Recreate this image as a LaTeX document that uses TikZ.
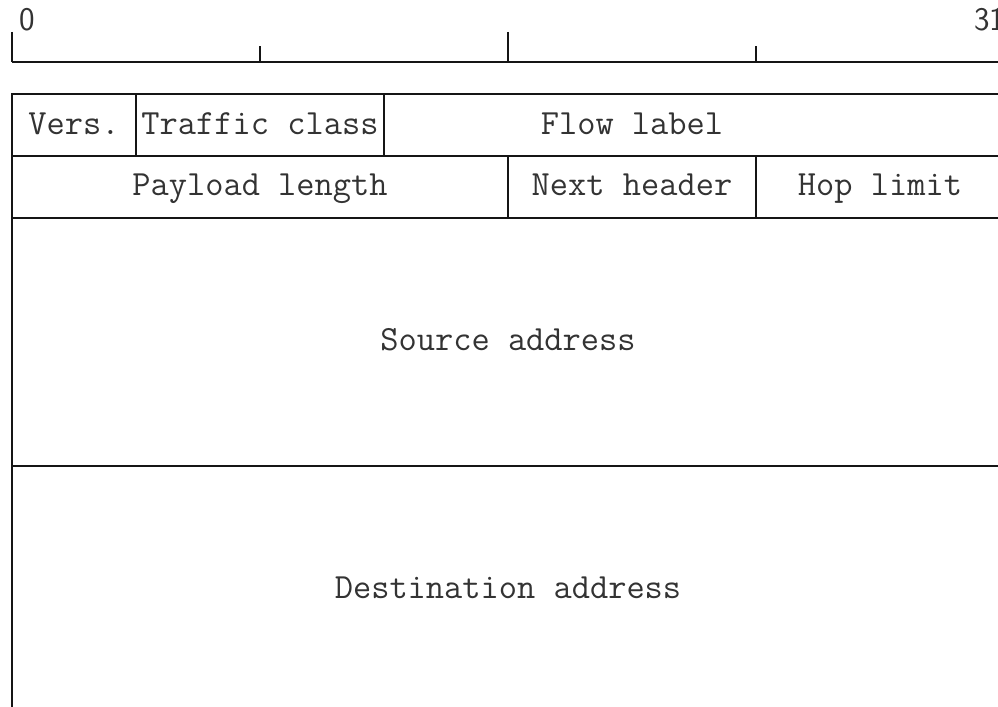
\documentclass[tikz,border=0pt]{standalone}
\definecolor{HeaderLine}{HTML}{151515}
\definecolor{HeaderText}{HTML}{333333}
\tikzset{
  field/.style={draw=HeaderLine,line width=1.1pt},
  fieldname/.style={text=HeaderText,font=\ttfamily\fontsize{17.7}{20}\selectfont,inner sep=0pt,anchor=base},
  bitno/.style={fieldname,font=\sffamily\fontsize{16.5}{20}\selectfont}
}

\begin{document}
\begin{tikzpicture}[x=15.5pt,y=-31pt,line cap=butt]
  % one unit across = one bit, one unit down = one 32-bit row
  \useasboundingbox (-.387,-1.516) rectangle (31.806,9.871);
  \clip (-.387,-1.516) rectangle (31.806,9.871);
  % bit ruler
  \draw[field] (0,-.516)--(32,-.516);
  \foreach \b in {0,16,32} \draw[field] (\b,-1.0)--(\b,-.516);
  \foreach \b in {8,24} \draw[field] (\b,-.774)--(\b,-.516);
  \node[bitno,anchor=base west] (bit0) at (.22,-1.03) {0};
  \node[bitno,anchor=base east] (bit31) at (32.05,-1.03) {31};
  % header fields
  \draw[field] (0,0) rectangle (4,1); \draw[field] (4,0) rectangle (12,1); \draw[field] (12,0) rectangle (32,1);
  \draw[field] (0,1) rectangle (16,2); \draw[field] (16,1) rectangle (24,2); \draw[field] (24,1) rectangle (32,2);
  \draw[field] (0,2) rectangle (32,6); \draw[field] (0,6) rectangle (32,10);
  \node[fieldname] (vers) at (2,.66) {Vers.}; \node[fieldname] (tclass) at (8,.66) {Traffic class};
  \node[fieldname] (flow) at (20,.66) {Flow label};
  \node[fieldname] (plen) at (8,1.64) {Payload length}; \node[fieldname] (nexth) at (20,1.64) {Next header};
  \node[fieldname] (hops) at (28,1.64) {Hop limit};
  \node[fieldname] (src) at (16,4.14) {Source address}; \node[fieldname] (dst) at (16,8.14) {Destination address};
\end{tikzpicture}
\end{document}
